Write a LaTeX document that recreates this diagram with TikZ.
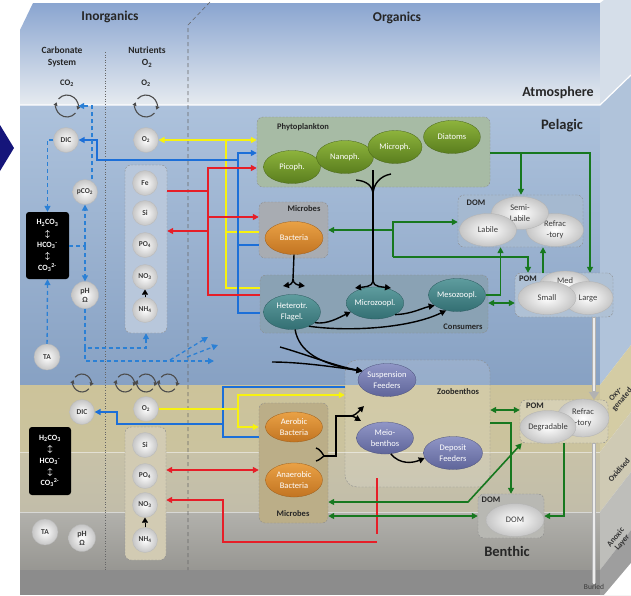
\documentclass[tikz,border=0pt]{standalone}
\usepackage{fontspec}
\setmainfont{Carlito}
\usetikzlibrary{shapes.geometric,arrows.meta}
\definecolor{atmA}{HTML}{8AA5D0}\definecolor{atmB}{HTML}{E6EBF0}
\definecolor{pelA}{HTML}{ADC2DC}\definecolor{pelB}{HTML}{87A1C3}
\definecolor{oxyC}{HTML}{CCC39A}\definecolor{oxdC}{HTML}{C8C2A8}
\definecolor{anoC}{HTML}{B2B1AC}\definecolor{botC}{HTML}{8C8C8C}
\definecolor{sAtm}{HTML}{D5DEE9}\definecolor{sPel}{HTML}{B0C3DA}
\definecolor{sOxy}{HTML}{D4CCA4}\definecolor{sOxd}{HTML}{CFCAB4}
\definecolor{sAno}{HTML}{BEBEBA}\definecolor{sBot}{HTML}{9E9E9E}
\definecolor{phyBox}{HTML}{A7BBA5}\definecolor{micBox}{HTML}{A8ACB2}
\definecolor{conBox}{HTML}{8AA2B4}\definecolor{domBox}{HTML}{A5B9D0}
\definecolor{pomBox}{HTML}{AFC1D5}\definecolor{nutBox}{HTML}{B8C7DB}
\definecolor{micBoxB}{HTML}{BBAE88}\definecolor{pomBoxB}{HTML}{D6D0B4}
\definecolor{domBoxB}{HTML}{B8B8B3}\definecolor{nutBoxB}{HTML}{D2CBB3}
\definecolor{phyT}{HTML}{8DB33C}\definecolor{phyB}{HTML}{5A7E1E}
\definecolor{bacT}{HTML}{E9A145}\definecolor{bacB}{HTML}{C27422}
\definecolor{conT}{HTML}{5E9C9E}\definecolor{conB}{HTML}{336F73}
\definecolor{zooT}{HTML}{9096C6}\definecolor{zooB}{HTML}{5F659A}
\definecolor{yelC}{HTML}{F7F20F}\definecolor{bluC}{HTML}{1C6FD8}
\definecolor{redC}{HTML}{E61E28}\definecolor{grnC}{HTML}{17781F}
\definecolor{dashC}{HTML}{2B80D5}\definecolor{navyC}{HTML}{15157A}
\definecolor{txtC}{HTML}{262626}\definecolor{sphC}{HTML}{3A3A3A}
\tikzset{
  grp/.style={rounded corners=6pt,draw=black!45,dash pattern=on 2pt off 1.5pt,line width=.4pt,inner sep=0pt},
  glbl/.style={font=\fontsize{8.5}{10}\selectfont\bfseries,text=txtC,inner sep=0pt},
  hdr/.style={font=\fontsize{13.5}{15}\selectfont\bfseries,text=txtC,inner sep=0pt},
  sub/.style={font=\fontsize{9.5}{12.5}\selectfont\bfseries,text=txtC,align=center,inner sep=0pt},
  sph/.style={circle,inner sep=0pt,minimum size=25pt,inner color=white,outer color=gray!45,draw=gray!55,line width=.3pt,text=sphC,font=\fontsize{7.5}{9}\selectfont\bfseries,align=center},
  orgn/.style={ellipse,inner sep=0pt,minimum width=57pt,minimum height=33pt,text=white,align=center,font=\fontsize{8.5}{10.5}\selectfont,line width=.3pt},
  phy/.style={orgn,top color=phyT,bottom color=phyB,draw=phyB!80!black},
  bac/.style={orgn,top color=bacT,bottom color=bacB,draw=bacB!80!black},
  con/.style={orgn,top color=conT,bottom color=conB,draw=conB!80!black},
  zoo/.style={orgn,top color=zooT,bottom color=zooB,draw=zooB!80!black},
  wel/.style={orgn,inner color=white,outer color=gray!45,draw=gray!60,text=sphC},
  carb/.style={rectangle,rounded corners=3pt,fill=black,text=white,inner sep=0pt,align=center,font=\fontsize{8}{11.3}\selectfont\bfseries},
  loopn/.style={circle,inner sep=0pt,minimum size=#1},
  cyc/.style={draw=black!70,line width=1.1pt,>={Triangle[length=3.5pt,width=4pt]}},
  fy/.style={draw=yelC,line width=1.6pt},
  fb/.style={draw=bluC,line width=1.6pt},
  fr/.style={draw=redC,line width=1.6pt},
  fg/.style={draw=grnC,line width=1.6pt},
  fk/.style={draw=black,line width=1.4pt},
  fd/.style={draw=dashC,line width=1.3pt,dash pattern=on 4pt off 3pt},
}
\newcommand{\exloop}[2]{%
  \draw[cyc,->] (#1) ++(40:#2) arc[start angle=40,end angle=200,radius=#2];
  \draw[cyc,->] (#1) ++(220:#2) arc[start angle=220,end angle=380,radius=#2];}
\begin{document}
\begin{tikzpicture}[x=1pt,y=-1pt,>={Triangle[length=6pt,width=6pt]},font=\fontsize{8.5}{10.5}\selectfont]
\clip (0,0) rectangle (631,595);
\fill[white] (0,0) rectangle (631,595);
% box
\shade[top color=atmA,bottom color=atmB] (20,30)--(33,3)--(600,3)--(600,105)--(20,105)--cycle;
\shade[top color=pelA,bottom color=pelB] (20,105) rectangle (600,385);
\shade[top color=oxyC,bottom color=oxyC!70!oxdC] (20,385) rectangle (600,452);
\shade[top color=oxdC,bottom color=oxdC!70!anoC] (20,452) rectangle (600,512);
\shade[top color=anoC,bottom color=anoC!85!black] (20,512) rectangle (600,570);
\fill[botC] (20,570) rectangle (600,595);
\fill[sAtm] (600,3)--(631,-20)--(631,75)--(600,105)--cycle;
\fill[sPel] (600,105)--(631,75)--(631,345)--(600,385)--cycle;
\fill[sOxy] (600,385)--(631,345)--(631,412)--(600,452)--cycle;
\fill[sOxd] (600,452)--(631,412)--(631,472)--(600,512)--cycle;
\fill[sAno] (600,512)--(631,472)--(631,530)--(600,570)--cycle;
\fill[sBot] (600,570)--(631,530)--(631,595)--(600,595)--cycle;
\fill[white] (604,595)--(631,563)--(631,595)--cycle;
\draw[white,line width=1.2pt] (20,105)--(600,105)--(631,75);
\draw[white,opacity=.5] (20,452)--(600,452) (20,512)--(600,512);
\fill[navyC] (0,125)--(14,148)--(0,171)--cycle;
\draw[black!60,dash pattern=on 4pt off 3pt,line width=.6pt] (210,2)--(188,25)--(188,570);
\draw[black!60,dotted,line width=.6pt] (105,52)--(105,570);

% titles
\node[hdr] (inorg) at (110,17) {Inorganics};
\node[hdr] (org) at (397,18) {Organics};
\node[sub] (carbsys) at (62,57) {Carbonate\\System};
\node[sub] (nutri) at (147,57) {Nutrients\\O\textsubscript{2}};
\node[hdr,font=\fontsize{14}{15}\selectfont\bfseries] (atmo) at (558,93) {Atmosphere};
\node[hdr,font=\fontsize{14.5}{15}\selectfont\bfseries] (pelag) at (562,126) {Pelagic};
\node[hdr,font=\fontsize{14.5}{15}\selectfont\bfseries] (benth) at (507,551) {Benthic};
\node[glbl,font=\fontsize{8.5}{9}\selectfont\bfseries] (co2lbl) at (67,83) {CO\textsubscript{2}};
\node[glbl,font=\fontsize{8.5}{9}\selectfont\bfseries] (o2lbl) at (146,83) {O\textsubscript{2}};

% groups
\node[grp,fill=phyBox,minimum width=233pt,minimum height=70pt] (phyto) at (373.5,152) {};
\node[grp,fill=micBox,minimum width=69pt,minimum height=56pt] (micp) at (293.5,230) {};
\node[grp,fill=conBox,minimum width=228pt,minimum height=58pt] (cons) at (374,304) {};
\node[grp,fill=domBox,minimum width=125pt,minimum height=52pt] (domp) at (520.5,221) {};
\node[grp,fill=pomBox,minimum width=98pt,minimum height=44pt] (pomp) at (564,295) {};
\node[grp,fill=nutBox,minimum width=42pt,minimum height=168pt] (nutp) at (146,249) {};
\node[grp,fill=white,fill opacity=.13,minimum width=145pt,minimum height=127pt,rounded corners=12pt] (zoob) at (417.5,423.5) {};
\node[grp,fill=micBoxB,minimum width=69pt,minimum height=120pt] (mib) at (293.5,463) {};
\node[grp,fill=pomBoxB,minimum width=88pt,minimum height=43pt] (pomb) at (564,421.5) {};
\node[grp,fill=domBoxB,minimum width=66pt,minimum height=44pt] (domb) at (511,516) {};
\node[grp,fill=nutBoxB,minimum width=41pt,minimum height=133pt] (nutb) at (145.5,493.5) {};
\node[glbl] (phytolbl) at (303,127) {Phytoplankton};
\node[glbl] (miclbl) at (304,209) {Microbes};
\node[glbl] (conslbl) at (463,327) {Consumers};
\node[glbl] (domplbl) at (476,203) {DOM};
\node[glbl] (pomplbl) at (528,279) {POM};
\node[glbl] (zooblbl) at (458,392) {Zoobenthos};
\node[glbl] (miblbl) at (293,514) {Microbes};
\node[glbl] (pomblbl) at (535,406) {POM};
\node[glbl] (domblbl) at (491,500) {DOM};

% pelagic inorganics
\node[loopn=22pt] (co2c) at (67,106) {};
\node[loopn=22pt] (o2c) at (146,106) {};
\exloop{co2c}{11}
\exloop{o2c}{11}
\node[sph] (dicp) at (66,140) {DIC};
\node[sph] (o2p) at (146,140) {O\textsubscript{2}};
\node[sph] (pco2) at (85,192) {pCO\textsubscript{2}};
\node[sph,minimum size=27pt,font=\fontsize{8}{9}\selectfont\bfseries] (php) at (85,295) {pH\\Ω};
\node[sph,minimum size=26pt] (tap) at (47,357) {TA};
\node[carb,minimum width=43pt,minimum height=67pt] (carbp) at (47.5,245.5) {H\textsubscript{2}CO\textsubscript{3}\\{\boldmath$\updownarrow$}\\HCO\textsubscript{3}\textsuperscript{-}\\{\boldmath$\updownarrow$}\\CO\textsubscript{3}\textsuperscript{2-}};
\node[sph] (fe) at (145,183) {Fe};
\node[sph] (sip) at (145,213) {Si};
\node[sph] (po4p) at (145,245) {PO\textsubscript{4}};
\node[sph] (no3p) at (145,277) {NO\textsubscript{3}};
\node[sph] (nh4p) at (145,310) {NH\textsubscript{4}};
\draw[black,line width=.1pt,-{Triangle[length=5pt,width=6pt]}] (nh4p) -- (no3p);

% pelagic organics
\node[phy] (picoph) at (292,167) {Picoph.};
\node[phy] (nanoph) at (345,157) {Nanoph.};
\node[phy,minimum width=54pt] (microph) at (395,147) {Microph.};
\node[phy] (diatoms) at (452,137) {Diatoms};
\node[bac,minimum width=58pt] (bacteria) at (294,238) {Bacteria};
\node[con,minimum height=35pt] (hetero) at (292,312) {Heterotr.\\Flagel.};
\node[con,minimum height=32pt] (microz) at (375,303) {Microzoopl.};
\node[con] (mesoz) at (457,295) {Mesozoopl.};
\node[wel] (refrp) at (555,230) {Refrac\\-tory};
\node[wel] (semil) at (520,213) {Semi-\\Labile};
\node[wel] (labile) at (488,230) {Labile};
\node[wel,minimum width=50pt,minimum height=26pt] (medp) at (565,284) {\raisebox{6pt}{Med}};
\node[wel,minimum width=50pt] (large) at (588,298) {Large};
\node[wel,minimum width=58pt] (small) at (547,298) {Small};

% benthic inorganics
\node[loopn=18pt] (dicc) at (82,383) {};
\node[loopn=18pt] (o2ca) at (125,383) {};
\node[loopn=18pt] (o2cb) at (146,383) {};
\node[loopn=18pt] (o2cc) at (168,383) {};
\exloop{dicc}{9}
\exloop{o2ca}{9}
\exloop{o2cb}{9}
\exloop{o2cc}{9}
\node[sph] (dicb) at (82,412) {DIC};
\node[sph] (o2b) at (146,409) {O\textsubscript{2}};
\node[carb,minimum width=42pt,minimum height=68pt] (carbb) at (50,461) {H\textsubscript{2}CO\textsubscript{3}\\{\boldmath$\updownarrow$}\\HCO\textsubscript{3}\textsuperscript{-}\\{\boldmath$\updownarrow$}\\CO\textsubscript{3}\textsuperscript{2-}};
\node[sph,minimum size=26pt] (tab) at (45,532) {TA};
\node[sph,minimum size=27pt,font=\fontsize{8}{9}\selectfont\bfseries] (phb) at (82,538) {pH\\Ω};
\node[sph] (sib) at (145,445) {Si};
\node[sph] (po4b) at (145,476) {PO\textsubscript{4}};
\node[sph] (no3b) at (145,505) {NO\textsubscript{3}};
\node[sph] (nh4b) at (145,540) {NH\textsubscript{4}};
\draw[black,line width=.1pt,-{Triangle[length=5pt,width=6pt]}] (nh4b) -- (no3b);

% benthic organics
\node[zoo,minimum width=58pt] (susp) at (387,380) {Suspension\\Feeders};
\node[zoo,minimum height=32pt] (meio) at (385,438) {Meio-\\benthos};
\node[zoo,minimum width=59pt] (depos) at (453,453) {Deposit\\Feeders};
\node[bac,minimum height=30pt] (aer) at (294,427) {Aerobic\\Bacteria};
\node[bac,minimum height=34pt] (anaer) at (294,480) {Anaerobic\\Bacteria};
\node[wel,minimum width=52pt,minimum height=38pt] (refrb) at (583,418) {Refrac\\-tory};
\node[wel,minimum width=56pt] (degr) at (548,427) {Degradable};
\node[wel,minimum width=58pt] (domell) at (515,520) {DOM};

% pelagic flows
\coordinate (yp) at (226,140);
\draw[fy,<->] (o2p) -- (o2p -| phyto.west);
\draw[fy] (yp) |- ([yshift=-2pt]micp.west);
\draw[fy] (yp) |- ([yshift=16pt]cons.west);
\coordinate (bp1) at (97,160);
\coordinate (bp2) at (238,160);
\draw[fb,<->] (dicp) -| (bp1) -- (bp2) |- ([yshift=-1pt]phyto.west);
\draw[fb] (bp2) |- ([yshift=-15pt]micp.west);
\draw[fb] (bp2) |- ([yshift=-9pt]cons.west);
\coordinate (rp) at (208,191);
\draw[fr] (nutp.east |- rp) -- (rp);
\draw[fr,->] (rp) |- ([yshift=-16pt]phyto.west);
\draw[fr,->] (rp) |- ([yshift=13pt]micp.west);
\draw[fr,->] (rp) |- ([yshift=18pt]nutp.east);
\draw[fr] (rp) |- ([yshift=9pt]cons.west);
\coordinate (gp1) at (590,153);
\coordinate (gp2) at (521,153);
\coordinate (gn) at (393,257);
\draw[fg,->] ([yshift=-1pt]phyto.east) -- (gp1) -- (gp1 |- pomp.north);
\draw[fg,->] (gp2) -- (gp2 |- domp.north);
\draw[fg,->] (gn) |- ([yshift=-1pt]domp.west);
\draw[fg,->] (gn |- micp.east) -- (micp.east);
\draw[fg,->] (gn) -| ([xshift=-36pt]pomp.north);
\draw[fg,->] (mesoz) -| ([xshift=-20pt]domp.south);
\draw[fg,->] ([xshift=-21pt]pomp.north) -- ([xshift=-21pt]pomp.north |- domp.south);
\draw[fg,<->] ([yshift=1pt]cons.east) -- ([yshift=-8pt]pomp.west);
\coordinate (tr1) at (356,180);
\coordinate (tr2) at (391,174);
\coordinate (tr3) at (373,170);
\coordinate (tt) at (373,195);
\coordinate (tb) at (373,281);
\draw[fk] (tr3) -- (tb);
\draw[fk] (tr1) .. controls (367,181) and (373,186) .. (tt);
\draw[fk] (tr2) .. controls (380,176) and (373,184) .. (tt);
\draw[fk,->] (tb) .. controls (373,287) and (363,287) .. (355,288);
\draw[fk,->] (tb) .. controls (373,287) and (383,287) .. (391,288);
\coordinate (bf) at (293,279);
\draw[fk] (bacteria.south) -- (bf);
\draw[fk,->] (bf) .. controls (293,284) and (289,285) .. (283,286);
\draw[fk,->] (bf) .. controls (293,284) and (298,285) .. (305,286);
\draw[fk,->] (hetero.-25) .. controls +(12,2) and +(-12,6) .. (microz.200);
\draw[fk,->] (hetero.-40) .. controls (350,332) and (410,328) .. (mesoz.235);
\draw[fk,->] (microz.-30) .. controls (412,314) and (422,308) .. (mesoz.205);
\coordinate (sf2) at (280,347);
\coordinate (sf3) at (272,362);
\draw[fk,->] (hetero.-80) .. controls (299,352) and (320,364) .. (susp.160);
\draw[fk,->] (sf2) .. controls (305,354) and (335,366) .. (susp.160);
\draw[fk,->] (sf3) .. controls (300,362) and (335,367) .. (susp.160);
\coordinate (pj1) at (85,348);
\coordinate (pj2) at (85,361);
\coordinate (ob1) at (170,360);
\coordinate (ob2) at (187,357);
\coordinate (out1) at (208,337);
\coordinate (out2) at (218,345);
\coordinate (out3) at (214,361);
\draw[fd,->] ([xshift=7pt]pco2.north) |- (co2c.east);
\draw[fd,->] (dicp) -| (carbp.north);
\coordinate (cj) at (85,246);
\draw[fd] (carbp.east |- cj) -- (cj);
\draw[fd,->] (cj) -- (pco2);
\draw[fd,->] (cj) -- (php);
\draw[fd,->] (tap) -- (carbp.south);
\draw[fd,->] (php) |- (pj1 -| nutp.south) -- (nutp.south);
\draw[fd,->] (pj1) -- (pj2) -- (out3);
\draw[fd,->] (ob1) -- (out1);
\draw[fd,->] (ob2) -- (out2);

% benthic flows
\coordinate (bb) at (223,424);
\coordinate (bb1) at (117,424);
\draw[fb,->] (bb) -- (bb1) |- (dicb);
\draw[fb] (bb) |- ([yshift=36.5pt]zoob.west);
\draw[fb] (bb) |- ([yshift=26pt]mib.west);
\coordinate (yb) at (238,409);
\draw[fy] (o2b) -- (yb);
\draw[fy,->] (yb) |- ([yshift=28.5pt]zoob.west);
\draw[fy,->] (yb) |- ([yshift=36pt]mib.west);
\coordinate (rb1) at (200,470);
\coordinate (rb2) at (223,500);
\coordinate (rb3) at (377,542);
\coordinate (rb4) at (377,478);
\draw[fr,<->] (nutb.east |- rb1) -- (mib.west |- rb1);
\draw[fr,->] (rb3) -| (rb2) -- (nutb.east |- rb2);
\draw[fr] (rb4) -- ([yshift=8pt]rb3);
\coordinate (mf1) at (316,448);
\coordinate (mf2) at (316,461);
\coordinate (mf) at (324,456);
\coordinate (mt) at (336,416);
\coordinate (mh) at (350,416);
\draw[fk] (mf1) .. controls (320,449) and (322,453) .. (mf);
\draw[fk] (mf2) .. controls (320,460) and (322,457) .. (mf);
\draw[fk] (mf) -- (mf -| mt) -- (mt) -- (mh);
\draw[fk,->] (mh) .. controls (355,416) and (358,412) .. (364,406);
\draw[fk,->] (mh) .. controls (354,416) and (356,418) .. (361,421);
\draw[fk,->] (meio.-70) .. controls (400,465) and (413,463) .. (depos.190);
\coordinate (gb1) at (468,502);
\draw[fg,<->] ([yshift=13.5pt]zoob.east) -- ([yshift=11.5pt]pomb.west);
\draw[fg,->] ([yshift=0.5pt]zoob.east) -| (domb.north);
\draw[fg,<->] (mib.east |- gb1) -- (gb1) -- ([xshift=2pt]pomb.south west);
\draw[fg,<->] (mib.east |- domb) -- (domb.west);
\draw[fg,->] (pomb.south) |- (domb.east);

% burial
\coordinate (pipex) at (594,0);
\node[font=\fontsize{7.5}{8}\selectfont,text=sphC,inner sep=1pt] (buried) at (594,587) {Buried};
\draw[line width=4.5pt,draw=gray!60,-{Triangle[length=8pt,width=10pt]}] (pomp.south -| pipex) -- (pomb.north -| pipex);
\draw[line width=2.2pt,draw=gray!15] ([yshift=-1pt]pomp.south -| pipex) -- ([yshift=9pt]pomb.north -| pipex);
\draw[line width=4.5pt,draw=gray!60] (pomb.south -| pipex) -- (buried.north);
\draw[line width=2.2pt,draw=gray!15] ([yshift=-1pt]pomb.south -| pipex) -- ([yshift=-1pt]buried.north);

% layers
\node[glbl,rotate=50,align=center,text=black!80,font=\fontsize{8}{8.5}\selectfont\bfseries] (oxy) at (619,397) {Oxy-\\genated};
\node[glbl,rotate=50,text=black!80,font=\fontsize{8}{8.5}\selectfont\bfseries] (oxd) at (619,470) {Oxidised};
\node[glbl,rotate=50,align=center,text=black!80,font=\fontsize{8}{8.5}\selectfont\bfseries] (anox) at (619,540) {Anoxic\\Layer};
\end{tikzpicture}
\end{document}
